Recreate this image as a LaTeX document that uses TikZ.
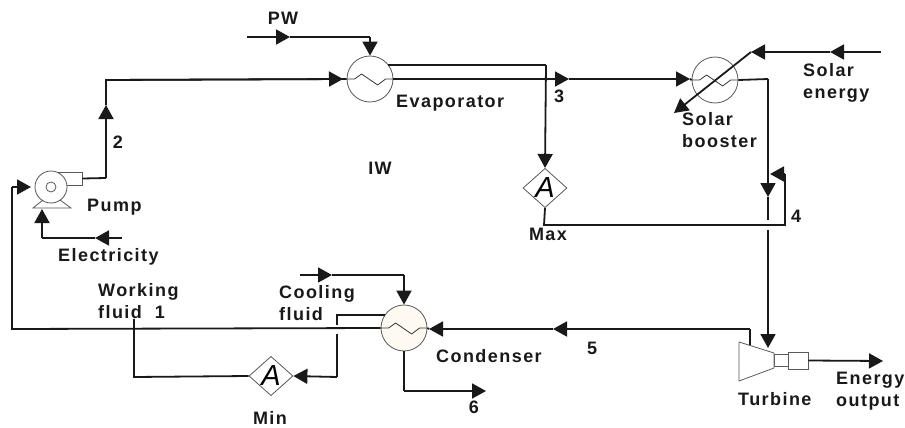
\documentclass[tikz,border=0pt]{standalone}
\usepackage{fontspec}
\setmainfont{Liberation Sans}[LetterSpace=8]
\newfontfamily\valvefont{Liberation Sans}
\usetikzlibrary{arrows.meta}
\usetikzlibrary{shapes.geometric}
\tikzset{
  pipe/.style={line width=1.8pt,draw=black!90},
  flow/.style={pipe,-{Triangle[length=14pt,width=15pt]}},
  unit/.style={draw=black!65,line width=0.8pt},
  exch/.style={circle,unit,minimum size=46pt,inner sep=0pt},
  valve/.style={diamond,unit,minimum width=44pt,minimum height=38pt,inner sep=0pt},
  lbl/.style={font=\fontsize{18}{22}\bfseries\selectfont,text=black!90,inner sep=0pt,align=left}
}
\newcommand{\zigzag}[1]{\draw[unit,draw=black!80] (#1.west) -- ++(8,0) -- ++(7,-5) -- ++(16,11) -- ++(8,-6) -- (#1.east);}
\begin{document}
\begin{tikzpicture}[x=1pt,y=-1pt]
\useasboundingbox (0,0) rectangle (905,428);
  \node[exch] (evap) at (370,79) {};
  \node[exch] (boost) at (715,80) {};
  \node[exch,fill=orange!5] (cond) at (404,328) {};
  \zigzag{evap}
  \zigzag{boost}
  \zigzag{cond}
  \node[valve] (amax) at (545,188) {\valvefont\fontsize{29}{29}\itshape\selectfont A};
  \node[valve] (amin) at (271,376) {\valvefont\fontsize{29}{29}\itshape\selectfont A};
\node[unit,rectangle,minimum width=24pt,minimum height=13pt,inner sep=0pt] (pumpout) at (70,178.5) {};
  \draw[unit,fill=white] (51,187) circle (16pt);
  \draw[unit] (51,187) circle (5pt);
  \draw[unit] (43,200)--(33,208)--(71,208)--(60,200);
  \coordinate (pumpin) at (31,187);
\node[unit,rectangle,minimum width=14pt,minimum height=12pt,inner sep=0pt] (shaft) at (781,360) {};
  \draw[unit,fill=white] (739,342)--(774,353)--(774,368)--(739,381)--cycle;
  \node[unit,rectangle,minimum width=20pt,minimum height=17pt,inner sep=0pt,fill=white] (gen) at (798,360.5) {};
  \coordinate (turbtop) at (750,345);
  \coordinate (turbin) at (768,348);
\coordinate (c1) at (106,178);
  \coordinate (c2) at (106,105);
  \coordinate (c3) at (106,80);
  \coordinate (c4) at (343,79);
  \draw[flow] (c1)--(c2);
  \draw[pipe] (pumpout.east)--(c1);
  \draw[pipe] (c2)--(c3)--(evap.west);
  \draw[flow] (c3)--(c4);
\coordinate (pw0) at (247,37);
  \coordinate (pw1) at (290,37);
  \coordinate (pw2) at (370,37);
  \draw[flow] (pw0)--(pw1);
  \draw[pipe] (pw1)--(pw2);
  \draw[flow] (pw2)--(evap.north);
\coordinate (e3) at (569,79);
  \coordinate (b1) at (690,79);
  \draw[flow] (evap.east)--(e3);
  \draw[flow] (e3)--(b1);
  \draw[pipe] (b1)--(boost.west);
\coordinate (t0) at (388,65);
  \coordinate (t1) at (546,65);
  \draw[pipe] (t0)--(t1);
  \draw[flow] (t1)--(amax.north);
\coordinate (m0) at (544,225);
  \coordinate (m1) at (785,225);
  \coordinate (m2) at (785,174);
  \coordinate (m3) at (770,174);
  \draw[pipe] (amax.south)--(m0)--(m1)--(m2);
  \draw[flow] (m2)--(m3);
\coordinate (s0) at (768,79);
  \coordinate (s1) at (768,197);
  \coordinate (s2) at (768,220);
  \coordinate (s3) at (768,230);
  \draw[pipe] (boost.east)--(s0);
  \draw[flow] (s0)--(s1);
  \draw[pipe] (s1)--(s2);
  \draw[flow] (s3)--(turbin);
\coordinate (h0) at (881,52);
  \coordinate (h1) at (830,52);
  \coordinate (h2) at (751,52);
  \coordinate (h3) at (674,113);
  \draw[flow] (h0)--(h1);
  \draw[flow] (h1)--(h2);
  \draw[flow] (h2)--(h3);
\coordinate (w0) at (750,329);
  \coordinate (w1) at (553,329);
  \coordinate (w2) at (429,329);
  \coordinate (w3) at (12,329);
  \coordinate (w5) at (12,187);
  \draw[pipe] (turbtop)--(w0);
  \draw[flow] (w0)--(w1);
  \draw[flow] (w1)--(w2);
  \draw[pipe] (w2)--(cond.east);
  \draw[pipe] (cond.west)--(w3)--(w5);
  \draw[flow] (w5)--(pumpin);
\coordinate (k0) at (300,275);
  \coordinate (k1) at (332,275);
  \coordinate (k2) at (404,275);
  \draw[flow] (k0)--(k1);
  \draw[pipe] (k1)--(k2);
  \draw[flow] (k2)--(cond.north);
\coordinate (r0) at (385,315);
  \coordinate (r1) at (337,315);
  \coordinate (r2) at (337,325);
  \coordinate (r3) at (337,334);
  \coordinate (r4) at (337,377);
  \draw[pipe] (r0)--(r1)--(r2);
  \draw[pipe] (r3)--(r4);
  \draw[flow] (r4)--(amin.east);
\coordinate (n0) at (134,377);
  \coordinate (n1) at (134,319);
  \draw[pipe] (amin.west)--(n0)--(n1);
\coordinate (o0) at (404,391);
  \coordinate (o1) at (486,391);
  \draw[pipe] (cond.south)--(o0);
  \draw[flow] (o0)--(o1);
\coordinate (q0) at (122,238);
  \coordinate (q1) at (95,238);
  \coordinate (q2) at (42,238);
  \coordinate (q3) at (42,209);
  \draw[flow] (q0)--(q1);
  \draw[pipe] (q1)--(q2);
  \draw[flow] (q2)--(q3);
\coordinate (g1) at (883,361);
  \draw[flow] (gen.east)--(g1);
\node[lbl] (lpw) at (283,18) {PW};
  \node[lbl] (lnum2) at (118,142) {2};
  \node[lbl] (lnum3) at (559,96) {3};
  \node[lbl] (lnum4) at (796,216) {4};
  \node[lbl] (lnum5) at (592,348) {5};
  \node[lbl] (lnum6) at (474,407) {6};
  \node[lbl] (liw) at (380,168) {IW};
  \node[lbl,anchor=west] (levap) at (396,103) {Evaporator};
  \node[lbl,anchor=west] (lsolar) at (803,83) {Solar\\energy};
  \node[lbl,anchor=west] (lboost) at (682,130) {Solar\\booster};
  \node[lbl] (lmax) at (548,234) {Max};
  \node[lbl,anchor=west] (lpump) at (87,207) {Pump};
  \node[lbl,anchor=west] (lelec) at (58,257) {Electricity};
  \node[lbl,anchor=west] (lwork) at (98,301) {Working\\fluid\ \ 1};
  \node[lbl,anchor=west] (lcool) at (279,303) {Cooling\\fluid};
  \node[lbl,anchor=west] (lcond) at (436,356) {Condenser};
  \node[lbl] (lmin) at (270,418) {Min};
  \node[lbl,anchor=west] (lturb) at (738,399) {Turbine};
  \node[lbl,anchor=west] (lener) at (836,391) {Energy\\output};
\end{tikzpicture}
\end{document}
